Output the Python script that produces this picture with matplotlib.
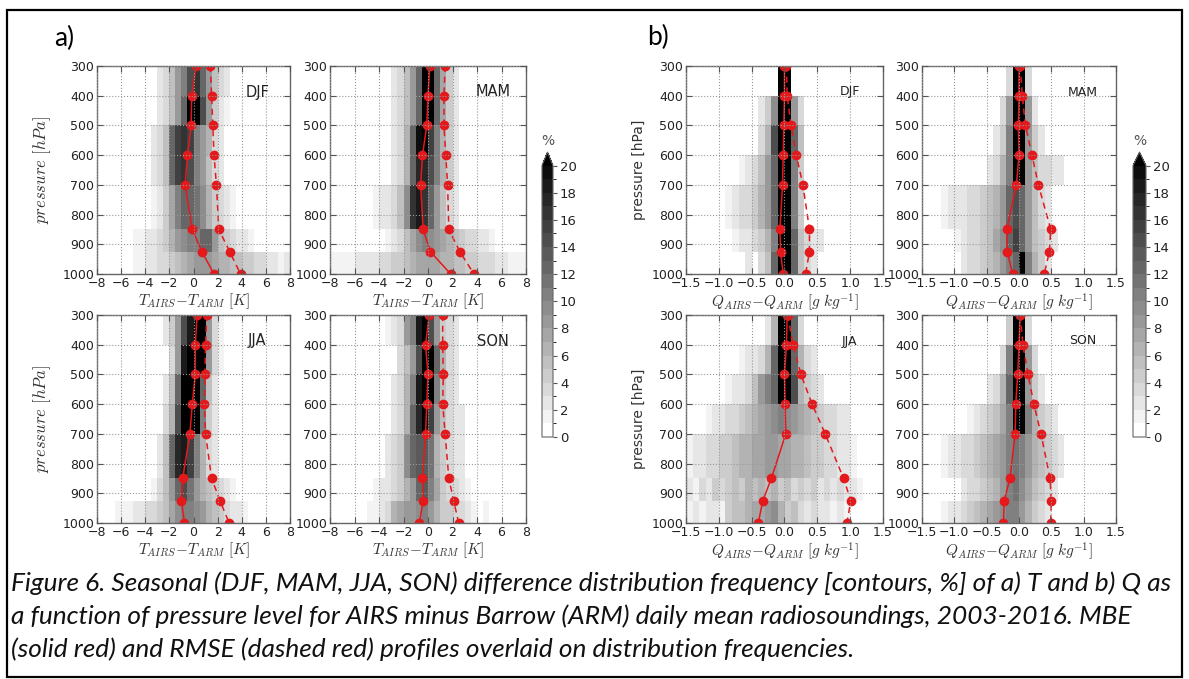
import numpy as np
import matplotlib
matplotlib.use("Agg")
import matplotlib.pyplot as plt
from matplotlib.colors import BoundaryNorm
from matplotlib.patches import Rectangle

plt.rcParams['font.family'] = 'DejaVu Sans'
plt.rcParams['mathtext.fontset'] = 'cm'

W, H = 1189, 679

seasons = ['DJF', 'MAM', 'JJA', 'SON']
plev = [300, 400, 500, 600, 700, 850, 925, 1000]
p_edges = [300, 400, 500, 600, 700, 850, 925, 1000]

# mean bias (solid) and rmse (dashed) profiles, one list per season
t_mbe = [[0.2, -0.15, -0.2, -0.5, -0.7, -0.1, 0.7, 1.7],
         [0.15, 0.0, -0.1, -0.45, -0.6, -0.4, 0.2, 1.85],
         [0.3, 0.15, 0.15, -0.1, -0.3, -0.9, -1.0, -0.75],
         [0.1, -0.2, 0.0, -0.1, -0.2, -0.45, -0.4, -0.7]]
t_rmse = [[1.4, 1.5, 1.6, 1.7, 1.9, 2.1, 3.0, 3.9],
          [1.4, 1.3, 1.3, 1.45, 1.6, 1.7, 2.6, 3.75],
          [1.1, 1.0, 0.95, 0.9, 1.0, 1.5, 2.2, 2.95],
          [1.2, 1.2, 1.25, 1.2, 1.4, 1.7, 2.1, 2.5]]
q_mbe = [[0.0, 0.0, -0.01, -0.02, -0.03, -0.07, -0.06, -0.02],
         [0.0, 0.0, -0.01, 0.0, -0.04, -0.19, -0.18, -0.1],
         [0.04, 0.03, 0.0, 0.01, 0.02, -0.2, -0.33, -0.4],
         [0.02, 0.0, -0.02, -0.05, -0.06, -0.14, -0.23, -0.24]]
q_rmse = [[0.03, 0.04, 0.1, 0.18, 0.28, 0.38, 0.38, 0.32],
          [0.02, 0.05, 0.1, 0.2, 0.3, 0.49, 0.47, 0.39],
          [0.05, 0.13, 0.25, 0.42, 0.62, 0.9, 1.01, 0.95],
          [0.02, 0.06, 0.14, 0.23, 0.34, 0.48, 0.5, 0.49]]

# frequency [%] per pressure band; each row starts at the *_lo edge
# T bins are 0.5 K wide, Q bins 0.1 g/kg wide
t_djf_lo = [-3.0, -3.0, -3.5, -3.5, -3.5, -5.0, -5.0]
t_djf = [[2, 3, 5, 8, 10, 14, 16, 12, 8, 5, 3, 2],
         [2, 3, 5, 8, 12, 20, 22, 14, 8, 4, 2, 1],
         [2, 3, 5, 12, 15, 16, 15, 10, 8, 6, 3, 2],
         [2, 3, 5, 12, 15, 16, 14, 10, 8, 5, 3, 2],
         [1, 2, 4, 7, 10, 12, 12, 11, 9, 6, 4, 3, 2, 1],
         [1, 1, 2, 2, 3, 4, 6, 8, 9, 10, 10, 12, 12, 8, 5, 4, 3, 2, 2, 1],
         [1, 1, 2, 2, 3, 3, 4, 5, 6, 7, 8, 8, 8, 7, 6, 6, 5, 5, 4, 4, 3, 3, 2, 2, 1, 2]]
t_mam_lo = [-3.0, -3.0, -3.0, -3.0, -4.5, -3.5, -8.0]
t_mam = [[2, 3, 5, 8, 12, 20, 20, 12, 7, 4, 2],
         [2, 3, 5, 8, 12, 20, 20, 12, 7, 4, 2],
         [2, 3, 6, 12, 19, 20, 15, 10, 6, 4, 2],
         [2, 3, 6, 12, 17, 17, 14, 10, 6, 4, 2],
         [1, 2, 2, 3, 5, 9, 16, 18, 16, 12, 8, 5, 3, 2],
         [1, 2, 3, 5, 7, 9, 10, 9, 8, 7, 6, 5, 4, 3, 3, 2, 2, 1],
         [1, 1, 1, 1, 2, 2, 2, 2, 3, 3, 4, 4, 5, 6, 7, 7, 7, 7, 6, 6, 5, 5, 4, 4, 3, 3, 3, 2, 2, 1, 1, 1]]
t_jja_lo = [-2.5, -2.0, -2.5, -2.5, -3.0, -3.5, -6.5]
t_jja = [[2, 4, 8, 14, 18, 22, 20, 8, 3, 1],
         [3, 8, 18, 20, 22, 20, 8, 3, 1],
         [2, 5, 12, 20, 20, 20, 12, 5, 2],
         [3, 6, 14, 22, 22, 20, 10, 4, 2],
         [2, 5, 12, 17, 18, 15, 10, 6, 3, 2],
         [1, 3, 5, 8, 12, 14, 11, 8, 6, 5, 4, 3, 2, 1],
         [1, 1, 1, 2, 2, 3, 3, 4, 5, 7, 9, 10, 10, 9, 8, 6, 5, 4, 3, 2, 2, 1]]
t_son_lo = [-3.5, -2.5, -3.0, -3.0, -3.5, -4.5, -5.0]
t_son = [[1, 2, 3, 8, 10, 18, 20, 14, 8, 4, 3, 2],
         [3, 5, 8, 14, 22, 20, 12, 6, 3, 2],
         [2, 3, 6, 10, 18, 20, 20, 10, 5, 3, 2],
         [2, 3, 6, 12, 17, 20, 15, 8, 5, 3, 2, 2],
         [2, 3, 4, 9, 12, 13, 13, 11, 6, 4, 3, 2, 2],
         [1, 2, 2, 3, 4, 6, 8, 12, 13, 10, 7, 4, 3, 3, 2, 1],
         [1, 1, 2, 3, 6, 7, 8, 8, 9, 10, 8, 6, 4, 4, 3, 3, 2, 1, 0, 1]]

q_djf_lo = [-0.1, -0.4, -0.4, -0.7, -0.9, -0.8, -0.6]
q_djf = [[50, 50],
         [2, 4, 9, 30, 30, 8, 3],
         [3, 6, 14, 28, 25, 12, 5],
         [1, 2, 3, 5, 8, 12, 25, 22, 10, 4],
         [1, 2, 3, 3, 4, 6, 8, 12, 22, 22, 10, 4],
         [1, 2, 2, 3, 4, 6, 10, 25, 25, 12, 5, 3, 2, 2],
         [2, 0, 3, 5, 12, 25, 25, 12, 5, 3, 2]]
q_mam_lo = [-0.2, -0.3, -0.4, -0.5, -1.2, -1.0, -0.9]
q_mam = [[3, 40, 40, 3],
         [3, 8, 30, 25, 8, 2],
         [2, 4, 10, 28, 25, 8, 4, 2],
         [2, 3, 6, 10, 25, 22, 8, 5, 3, 3, 2, 2],
         [1, 2, 2, 2, 3, 3, 4, 5, 6, 8, 12, 14, 12, 8, 5, 3, 2],
         [1, 2, 3, 3, 4, 5, 7, 9, 12, 15, 12, 8, 5, 4, 3, 2],
         [2, 3, 3, 4, 5, 6, 8, 10, 12, 20, 10, 6, 4, 2]]
q_jja_lo = [-0.3, -0.7, -0.9, -1.2, -1.5, -1.5, -1.5]
q_jja = [[2, 6, 25, 25, 12, 3],
         [1, 2, 2, 3, 6, 12, 20, 20, 12, 6, 3, 2],
         [1, 2, 2, 3, 5, 8, 10, 12, 20, 20, 14, 6, 4, 3, 2],
         [1, 2, 2, 3, 3, 4, 5, 6, 7, 8, 9, 10, 9, 8, 7, 6, 5, 4, 3, 3, 2, 2],
         [1, 2, 2, 3, 3, 4, 4, 5, 6, 6, 7, 7, 8, 8, 7, 7, 6, 6, 5, 4, 4, 3, 3, 2, 2, 1],
         [2, 1, 3, 2, 4, 3, 4, 5, 4, 6, 5, 6, 5, 6, 4, 5, 3, 4, 3, 4, 2, 3, 2, 3, 2, 2, 1],
         [1, 2, 1, 2, 2, 1, 4, 5, 5, 6, 7, 7, 8, 9, 6, 4, 5, 3, 2, 3, 2, 2, 1, 2, 1]]
q_son_lo = [-0.2, -0.3, -0.5, -0.8, -1.2, -0.9, -1.2]
q_son = [[4, 40, 40, 3],
         [3, 10, 28, 25, 8, 3],
         [2, 3, 6, 12, 28, 22, 8, 4, 2],
         [1, 2, 3, 4, 5, 7, 10, 25, 22, 10, 6, 4, 3, 2],
         [1, 2, 2, 3, 3, 4, 5, 6, 7, 8, 10, 11, 10, 8, 6, 5, 4, 3, 2],
         [2, 3, 3, 4, 5, 6, 8, 10, 11, 9, 7, 5, 4, 3, 2],
         [1, 2, 2, 3, 4, 5, 6, 7, 8, 9, 10, 10, 8, 6, 4, 3, 2]]

t_edges = np.arange(-8, 8.01, 0.5)
q_edges = np.arange(-1.5, 1.501, 0.1)


def make_grid(lo, rows, edges):
    dx = edges[1] - edges[0]
    grid = np.zeros((len(rows), len(edges) - 1))
    for k, (start, vals) in enumerate(zip(lo, rows)):
        i0 = int(round((start - edges[0]) / dx))
        grid[k, i0:i0 + len(vals)] = vals
    return grid


levels = np.arange(0, 21, 1)
cmap = plt.get_cmap('gray_r')
norm = BoundaryNorm(levels, cmap.N, extend='max')
red = '#e3191c'


def rect(x0, y0, x1, y1):
    return [x0 / W, 1 - y1 / H, (x1 - x0) / W, (y1 - y0) / H]


def panel(box, grid, edges, mbe, rmse, season, xticks, xlabel, ylabel, fs_season):
    ax = fig.add_axes(rect(*box))
    mesh = ax.pcolormesh(edges, p_edges, grid, cmap=cmap, norm=norm)
    ax.plot(mbe, plev, '-o', color=red, lw=1.1, ms=6, mec=red)
    ax.plot(rmse, plev, 'o', color=red, ls=(0, (4, 3)), lw=1.1, ms=6, mec=red)
    ax.set_xlim(edges[0], edges[-1])
    ax.set_ylim(1000, 300)
    ax.set_xticks(xticks)
    ax.set_yticks(plev[:5] + [800, 900, 1000])
    ax.grid(True, color='#999999', ls=':', lw=0.8)
    ax.set_axisbelow(False)
    ax.tick_params(direction='in', top=True, right=True, length=4, width=0.8,
                   labelsize=9, colors='#555555', labelcolor='#222222', pad=2)
    for s in ax.spines.values():
        s.set_color('#666666')
        s.set_linewidth(1.0)
    ax.set_xlabel(xlabel, fontsize=11, labelpad=1, color='#333333')
    if ylabel is not None:
        ax.set_ylabel(ylabel[0], fontsize=ylabel[1], color='#333333')
        ax.yaxis.set_label_coords(ylabel[2], 0.5)
    ax.text(0.83, 0.875, season, transform=ax.transAxes, ha='center', va='center',
            fontsize=fs_season, color='#222222')
    return mesh


fig = plt.figure(figsize=(W / 100, H / 100), dpi=100)

t_grids = [make_grid(t_djf_lo, t_djf, t_edges), make_grid(t_mam_lo, t_mam, t_edges),
           make_grid(t_jja_lo, t_jja, t_edges), make_grid(t_son_lo, t_son, t_edges)]
q_grids = [make_grid(q_djf_lo, q_djf, q_edges), make_grid(q_mam_lo, q_mam, q_edges),
           make_grid(q_jja_lo, q_jja, q_edges), make_grid(q_son_lo, q_son, q_edges)]

t_boxes = [(97, 66, 290, 274), (330, 66, 526, 274), (97, 315, 290, 523), (330, 315, 526, 523)]
q_boxes = [(686, 66, 883, 274), (922, 66, 1116, 274), (686, 315, 883, 523), (922, 315, 1116, 523)]

t_label = r'$T_{AIRS}{-}T_{ARM}\ [K]$'
q_label = r'$Q_{AIRS}{-}Q_{ARM}\ [g\ kg^{-1}]$'

for i in range(4):
    yl = (r'$pressure\ [hPa]$', 12, -0.23) if i % 2 == 0 else None
    m = panel(t_boxes[i], t_grids[i], t_edges, t_mbe[i], t_rmse[i], seasons[i],
              np.arange(-8, 9, 2), t_label, yl, 10.5)
for i in range(4):
    yl = ('pressure [hPa]', 10, -0.205) if i % 2 == 0 else None
    panel(q_boxes[i], q_grids[i], q_edges, q_mbe[i], q_rmse[i], seasons[i],
          np.arange(-1.5, 1.51, 0.5), q_label, yl, 9)

# colorbars
for x0, x1 in [(542, 553), (1133, 1146)]:
    cax = fig.add_axes(rect(x0, 152, x1, 437))
    cb = fig.colorbar(m, cax=cax, extend='max', ticks=np.arange(0, 21, 2))
    cb.outline.set_edgecolor('#666666')
    cb.outline.set_linewidth(0.8)
    cax.tick_params(labelsize=9.5, length=3, colors='#555555', labelcolor='#222222', pad=2)
    fig.text((x0 + x1) / 2 / W, 1 - 141 / H, '%', ha='center', va='center',
             fontsize=10, color='#555555')

fig.text(54 / W, 1 - 38 / H, 'a)', fontsize=19, family='Lato', va='center', ha='left')
fig.text(647 / W, 1 - 37 / H, 'b)', fontsize=19, family='Lato', va='center', ha='left')

caption = ["Figure 6. Seasonal (DJF, MAM, JJA, SON) difference distribution frequency [contours, %] of a) T and b) Q as",
           "a function of pressure level for AIRS minus Barrow (ARM) daily mean radiosoundings, 2003-2016. MBE",
           "(solid red) and RMSE (dashed red) profiles overlaid on distribution frequencies."]
cap_y = [583, 616, 649]
txts = [fig.text(11 / W, 1 - y / H, s, fontsize=16, family='Lato', style='italic',
                 va='center', ha='left', color='#111111') for s, y in zip(caption, cap_y)]
# fit the first line to the frame width
r = fig.canvas.get_renderer()
wpx = txts[0].get_window_extent(r).width
fs = 16 * 1164 / wpx
for t in txts:
    t.set_fontsize(fs)

fig.add_artist(Rectangle((7 / W, 1 - 677 / H), 1175 / W, 667 / H, transform=fig.transFigure,
                         fill=False, lw=1.6, ec='black'))

fig.savefig('out.png', dpi=100)
